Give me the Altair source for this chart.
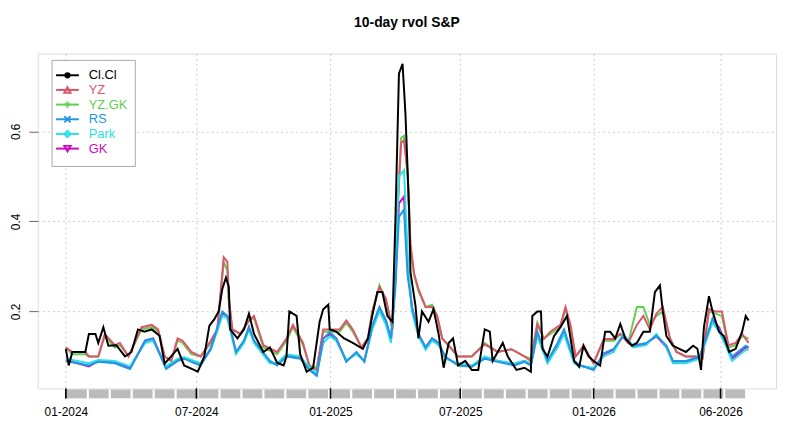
import altair as alt
import pandas as pd

# (trading-position index, value) pairs
CC = [(0,0.117),(4,0.08),(9,0.11),(27,0.11),(32,0.15),(41,0.15),(45,0.13),(52,0.165),(59,0.124),(70,0.125),
      (82,0.10),(91,0.11),(100,0.16),(109,0.155),(119,0.16),(130,0.146),(137,0.084),(146,0.10),(155,0.117),
      (164,0.08),(174,0.073),(183,0.066),(192,0.10),(199,0.168),(206,0.183),(212,0.2),(217,0.25),(222,0.275),
      (226,0.255),(228,0.16),(238,0.14),(247,0.16),(254,0.195),(261,0.15),(274,0.11),(283,0.12),(293,0.086),
      (302,0.08),(306,0.10),(310,0.2),(320,0.19),(325,0.105),(334,0.066),(343,0.075),(352,0.177),(357,0.205),
      (364,0.215),(366,0.16),(375,0.155),(386,0.14),(398,0.13),(412,0.117),(419,0.14),(425,0.19),(432,0.243),
      (439,0.243),(446,0.19),(453,0.177),(457,0.397),(462,0.728),(467,0.75),(471,0.64),(476,0.43),(478,0.287),
      (485,0.212),(489,0.14),(494,0.2),(503,0.177),(510,0.205),(517,0.15),(524,0.075),(531,0.13),(537,0.14),
      (544,0.08),(554,0.09),(563,0.07),(572,0.07),(581,0.16),(588,0.155),(592,0.09),(606,0.13),(613,0.1),
      (625,0.07),(636,0.075),(645,0.066),(647,0.19),(654,0.2),(659,0.2),(661,0.117),(668,0.1),(677,0.145),
      (686,0.165),(695,0.19),(705,0.09),(712,0.077),(718,0.124),(725,0.1),(732,0.09),(741,0.08),(748,0.155),
      (755,0.155),(762,0.14),(769,0.172),(776,0.14),(785,0.124),(792,0.13),(801,0.155),(810,0.155),(817,0.243),
      (824,0.258),(828,0.2),(833,0.145),(842,0.124),(851,0.117),(860,0.11),(870,0.124),(876,0.117),(881,0.07),
      (885,0.165),(892,0.234),(897,0.2),(906,0.155),(913,0.145),(920,0.11),(929,0.117),(938,0.155),(943,0.19),(947,0.18)]

YZ = [(0,0.12),(9,0.11),(27,0.11),(32,0.10),(45,0.10),(54,0.15),(68,0.125),(75,0.13),(87,0.10),(105,0.165),
      (119,0.17),(128,0.16),(137,0.10),(146,0.09),(155,0.14),(162,0.135),(174,0.11),(187,0.10),(201,0.135),
      (210,0.16),(219,0.32),(224,0.31),(226,0.23),(231,0.16),(242,0.15),(254,0.18),(261,0.19),(274,0.125),
      (293,0.11),(306,0.14),(315,0.17),(329,0.13),(338,0.077),(348,0.07),(357,0.16),(366,0.16),(380,0.16),
      (389,0.18),(398,0.16),(410,0.12),(419,0.14),(425,0.2),(435,0.254),(444,0.228),(453,0.16),(460,0.42),
      (465,0.574),(469,0.58),(474,0.51),(478,0.35),(483,0.285),(489,0.25),(499,0.21),(508,0.21),(515,0.19),
      (522,0.14),(531,0.124),(544,0.10),(563,0.10),(581,0.127),(599,0.11),(618,0.116),(636,0.10),(645,0.09),
      (654,0.172),(663,0.139),(672,0.155),(686,0.17),(693,0.21),(700,0.17),(707,0.10),(718,0.124),(732,0.085),
      (746,0.139),(760,0.139),(769,0.15),(780,0.13),(792,0.17),(801,0.19),(810,0.16),(819,0.195),(828,0.21),
      (838,0.14),(847,0.11),(860,0.10),(874,0.10),(883,0.095),(892,0.205),(901,0.2),(910,0.2),(919,0.125),
      (929,0.13),(938,0.15),(947,0.13)]

YZGK = [(0,0.12),(9,0.105),(27,0.105),(32,0.10),(45,0.10),(54,0.145),(68,0.12),(75,0.125),(87,0.10),(105,0.16),
        (119,0.165),(128,0.155),(137,0.10),(146,0.09),(155,0.135),(162,0.13),(174,0.105),(187,0.10),(201,0.13),
        (210,0.155),(219,0.31),(224,0.29),(226,0.22),(231,0.16),(242,0.15),(254,0.18),(261,0.185),(274,0.12),
        (293,0.105),(306,0.135),(315,0.165),(329,0.125),(338,0.08),(348,0.075),(357,0.155),(366,0.155),(380,0.155),
        (389,0.175),(398,0.155),(410,0.12),(419,0.14),(425,0.2),(435,0.258),(444,0.225),(453,0.16),(460,0.43),
        (465,0.585),(469,0.59),(474,0.5),(478,0.34),(483,0.28),(489,0.245),(499,0.21),(508,0.215),(515,0.19),
        (522,0.14),(531,0.124),(544,0.10),(563,0.10),(581,0.13),(599,0.11),(618,0.116),(636,0.10),(645,0.095),
        (654,0.175),(663,0.14),(672,0.15),(686,0.165),(693,0.205),(700,0.165),(707,0.10),(718,0.12),(732,0.085),
        (746,0.135),(760,0.135),(769,0.15),(780,0.13),(792,0.21),(801,0.21),(810,0.17),(819,0.19),(828,0.2),
        (838,0.14),(847,0.11),(860,0.10),(874,0.10),(883,0.095),(892,0.2),(901,0.195),(910,0.19),(919,0.12),
        (929,0.125),(938,0.145),(947,0.14)]

RS = [(0,0.09),(32,0.08),(45,0.088),(68,0.085),(89,0.072),(110,0.135),(121,0.14),(139,0.072),(155,0.09),
      (164,0.095),(178,0.085),(187,0.08),(201,0.117),(217,0.2),(224,0.19),(236,0.11),(247,0.135),(254,0.165),
      (261,0.135),(283,0.09),(293,0.08),(306,0.10),(325,0.095),(338,0.07),(348,0.057),(357,0.139),(366,0.154),
      (375,0.14),(389,0.088),(403,0.11),(414,0.088),(425,0.168),(435,0.21),(444,0.18),(451,0.14),(457,0.25),
      (462,0.41),(469,0.426),(474,0.28),(480,0.21),(489,0.15),(499,0.12),(508,0.14),(517,0.13),(526,0.10),
      (544,0.08),(563,0.077),(581,0.095),(599,0.088),(622,0.08),(636,0.088),(645,0.08),(654,0.155),(668,0.09),
      (682,0.13),(691,0.16),(705,0.09),(714,0.08),(732,0.07),(746,0.107),(760,0.117),(773,0.146),(787,0.124),
      (805,0.13),(819,0.146),(833,0.124),(842,0.09),(860,0.09),(879,0.10),(888,0.14),(897,0.185),(906,0.16),
      (915,0.13),(924,0.1),(943,0.124),(947,0.12)]

PARK = [(0,0.095),(32,0.085),(45,0.092),(68,0.09),(89,0.078),(110,0.13),(121,0.135),(139,0.078),(155,0.095),
        (164,0.098),(178,0.09),(187,0.085),(201,0.115),(217,0.19),(224,0.185),(236,0.105),(247,0.13),(254,0.16),
        (261,0.13),(283,0.085),(293,0.085),(306,0.105),(325,0.1),(338,0.075),(348,0.062),(357,0.13),(366,0.145),
        (375,0.135),(389,0.092),(403,0.105),(414,0.09),(425,0.16),(435,0.2),(444,0.17),(451,0.13),(457,0.3),
        (462,0.5),(469,0.514),(474,0.33),(480,0.2),(489,0.145),(499,0.115),(508,0.135),(517,0.125),(526,0.095),
        (544,0.085),(563,0.08),(581,0.1),(599,0.09),(622,0.085),(636,0.09),(645,0.085),(654,0.145),(668,0.085),
        (682,0.12),(691,0.15),(705,0.085),(714,0.078),(732,0.075),(746,0.1),(760,0.11),(773,0.15),(787,0.12),
        (805,0.125),(819,0.15),(833,0.12),(842,0.085),(860,0.085),(879,0.095),(888,0.135),(897,0.175),(906,0.155),
        (915,0.125),(924,0.09),(943,0.115),(947,0.115)]

GK = [(0,0.092),(32,0.078),(45,0.09),(68,0.087),(89,0.074),(110,0.135),(121,0.14),(139,0.075),(155,0.092),
      (164,0.097),(178,0.087),(187,0.082),(201,0.118),(217,0.195),(224,0.19),(236,0.11),(247,0.133),(254,0.165),
      (261,0.133),(283,0.088),(293,0.082),(306,0.102),(325,0.097),(338,0.072),(348,0.06),(357,0.14),(366,0.15),
      (375,0.14),(389,0.09),(403,0.108),(414,0.09),(425,0.165),(435,0.208),(444,0.178),(451,0.138),(457,0.27),
      (462,0.44),(469,0.455),(474,0.3),(480,0.21),(489,0.15),(499,0.12),(508,0.14),(517,0.13),(526,0.098),
      (544,0.082),(563,0.078),(581,0.097),(599,0.09),(622,0.082),(636,0.09),(645,0.082),(654,0.15),(668,0.09),
      (682,0.125),(691,0.155),(705,0.088),(714,0.08),(732,0.072),(746,0.105),(760,0.115),(773,0.145),(787,0.122),
      (805,0.128),(819,0.145),(833,0.12),(842,0.088),(860,0.088),(879,0.098),(888,0.138),(897,0.18),(906,0.165),
      (915,0.13),(924,0.095),(943,0.12),(947,0.12)]

SERIES = ["Cl.Cl", "YZ", "YZ.GK", "RS", "Park", "GK"]
COLORS = ["#000000", "#DF536B", "#61D04F", "#2297E6", "#28E2E5", "#CD0BBC"]
SHAPES = ["circle", "triangle-up", "M-1,0L1,0M0,-1L0,1", "M-1,-1L1,1M-1,1L1,-1", "diamond", "triangle-down"]
FILLED = [True, False, False, False, False, False]
TICK_POS = [0, 181, 367, 547, 732, 908]
TICK_LAB = ["01-2024", "07-2024", "01-2025", "07-2025", "01-2026", "06-2026"]

data_map = {"Cl.Cl": CC, "YZ": YZ, "YZ.GK": YZGK, "RS": RS, "Park": PARK, "GK": GK}
rows = []
for order, name in enumerate(SERIES):
    for d, v in data_map[name]:
        rows.append({"series": name, "day": d, "value": v, "ord": order})
df = pd.DataFrame(rows)

W, H = 745, 338
XD = [-39, 985]
YD = [0.029, 0.773]
lab_expr = "{" + ",".join(f"'{p}':'{l}'" for p, l in zip(TICK_POS, TICK_LAB)) + "}[datum.value]"

xenc = alt.X("day:Q", scale=alt.Scale(domain=XD, nice=False, zero=False),
             axis=alt.Axis(values=TICK_POS, labelExpr=lab_expr, grid=True, gridColor="#cccccc",
                           gridDash=[2, 3], domain=False, tickColor="black", tickSize=10,
                           labelFontSize=12, labelPadding=8, labelFont="Liberation Sans",
                           labelColor="black", title=None))
yenc = alt.Y("value:Q", scale=alt.Scale(domain=YD, nice=False, zero=False),
             axis=alt.Axis(values=[0.2, 0.4, 0.6], format=".1f", grid=True, gridColor="#cccccc",
                           gridDash=[2, 3], domain=False, tickColor="#666666", tickSize=9,
                           labelAngle=270, labelAlign="center", labelBaseline="bottom",
                           labelFontSize=12, labelPadding=6, labelFont="Liberation Sans",
                           labelColor="black", title=None))

# draw colour lines first, black on top
plot_order = ["YZ.GK", "YZ", "GK", "Park", "RS", "Cl.Cl"]
layers = []
for name in plot_order:
    c = COLORS[SERIES.index(name)]
    layers.append(alt.Chart(df[df.series == name]).mark_line(color=c, strokeWidth=2, clip=True)
                  .encode(x=xenc, y=yenc, order="day:Q"))

# gray daily-tick band under the axis
band_df = pd.DataFrame({"a": [m * 30.44 + 1.5 for m in range(31)], "b": [(m + 1) * 30.44 - 1.5 for m in range(31)]})
band_df = band_df[band_df.a < 947]
band_df["b"] = band_df["b"].clip(upper=947)
band = alt.Chart(band_df).mark_rect(color="#bbbbbb", clip=False).encode(
    x=alt.X("a:Q", scale=alt.Scale(domain=XD, nice=False, zero=False)), x2="b:Q",
    y=alt.value(H + 1), y2=alt.value(H + 10))
black_ticks = alt.Chart(pd.DataFrame({"p": TICK_POS})).mark_rule(color="black", strokeWidth=1.5, clip=False).encode(
    x=alt.X("p:Q", scale=alt.Scale(domain=XD, nice=False, zero=False)), y=alt.value(H), y2=alt.value(H + 10))

# legend
leg = [alt.Chart(pd.DataFrame({"a": [0]})).mark_rect(fill="white", stroke="#aaaaaa", strokeWidth=1).encode(
    x=alt.value(14.5), x2=alt.value(98.5), y=alt.value(7), y2=alt.value(114))]
for i, name in enumerate(SERIES):
    yy = 22 + i * 14.8
    one = pd.DataFrame({"a": [0]})
    leg.append(alt.Chart(one).mark_rule(color=COLORS[i], strokeWidth=2).encode(
        x=alt.value(18.5), x2=alt.value(41.5), y=alt.value(yy)))
    leg.append(alt.Chart(one).mark_point(color=COLORS[i], shape=SHAPES[i], filled=FILLED[i], size=40,
                                         strokeWidth=2, opacity=1).encode(x=alt.value(30), y=alt.value(yy)))
    leg.append(alt.Chart(one).mark_text(text=name, color=COLORS[i], align="left", baseline="middle",
                                        fontSize=13, font="Liberation Sans").encode(x=alt.value(51.5), y=alt.value(yy)))

chart = alt.layer(band, black_ticks, *layers, *leg).properties(
    width=W, height=H,
    title=alt.TitleParams("10-day rvol S&P", fontSize=14, fontWeight="bold", font="Liberation Sans",
                          anchor="middle", offset=24, color="black"),
    autosize=alt.AutoSizeParams(type="none"),
    padding={"left": 30, "top": 44, "right": 2, "bottom": 30},
).configure_view(stroke="#aaaaaa", strokeWidth=1.2).configure(background="white")

chart.save("out.html", embed_options={"renderer": "svg", "actions": False})
